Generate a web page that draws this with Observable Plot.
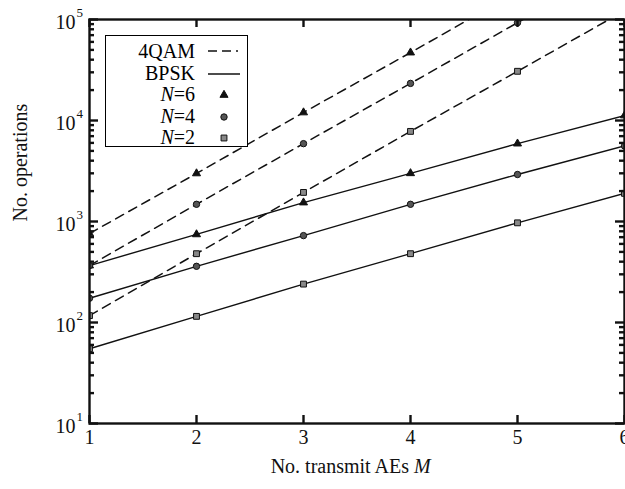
<!DOCTYPE html>
<html><head><meta charset="utf-8">
<script src="https://cdn.jsdelivr.net/npm/d3@7"></script>
<script src="https://cdn.jsdelivr.net/npm/@observablehq/plot@0.6"></script>
<style>
body{margin:0;background:#fff;font-family:"Liberation Serif","Times New Roman",serif;}
#wrap{position:relative;width:625px;height:489px;}
#legend{position:absolute;left:105px;top:35px;width:141px;height:110px;border:1.5px solid #000;background:#fff;font-size:20px;line-height:20px;}
.row{position:absolute;left:0;width:141px;height:20px;}
.row .lab{position:absolute;right:52px;top:0;white-space:nowrap;}
.row svg{position:absolute;left:98px;top:0;}
</style>
</head><body>
<div id="wrap"><div id="chart"></div><div id="legend"></div></div>
<script>
// ---- data ----
const M = [1, 2, 3, 4, 5, 6];
const bpskN2 = [55, 115, 240, 480, 970, 1900];
const bpskN4 = [174, 360, 725, 1480, 2920, 5600];
const bpskN6 = [366, 745, 1540, 3000, 5900, 11200];
const qamN2 = [117, 480, 1940, 7800, 30700, 122000];
const qamN4 = [366, 1480, 5900, 23300, 93000, 370000];
const qamN6 = [760, 2990, 12000, 47000, 188000, 750000];
const yTicks = [10, 100, 1000, 10000, 100000];
const yTickExp = ["1", "2", "3", "4", "5"];
const yMinor = [];
for (const d of [10, 100, 1000, 10000]) for (const k of [2,3,4,5,6,7,8,9]) yMinor.push(d * k);
const xTicks = [1, 2, 3, 4, 5, 6];

const mk = (mod, N, vals) => M.map((m, i) => ({M: m, ops: vals[i], mod, N}));
const bpsk = [...mk("BPSK", 2, bpskN2), ...mk("BPSK", 4, bpskN4), ...mk("BPSK", 6, bpskN6)];
const qam = [...mk("4QAM", 2, qamN2), ...mk("4QAM", 4, qamN4), ...mk("4QAM", 6, qamN6)];
const all = [...bpsk, ...qam];

const font = "Liberation Serif";
const markerStyle = {
  6: {symbol: "triangle", fill: "#111", r: 3},
  4: {symbol: "circle", fill: "#555", r: 3.2},
  2: {symbol: "square", fill: "#888", r: 3.3}
};
// frame inner size (for tick insets)
const W = 625, H = 489, mL = 89, mR = 1, mT = 19, mB = 66;
const fw = W - mL - mR, fh = H - mT - mB;
const tickStyle = {stroke: "#111", strokeWidth: 2.4};

const chart = Plot.plot({
  width: W, height: H,
  marginLeft: mL, marginRight: mR, marginTop: mT, marginBottom: mB,
  style: {fontFamily: font, background: "#fff"},
  x: {domain: [1, 6], axis: null},
  y: {type: "log", domain: [10, 100000], axis: null},
  marks: [
    Plot.line(bpsk, {x: "M", y: "ops", z: "N", stroke: "#111", strokeWidth: 1.4, clip: true}),
    Plot.line(qam, {x: "M", y: "ops", z: "N", stroke: "#111", strokeWidth: 1.5, strokeDasharray: "9,6", clip: true}),
    ...[6, 4, 2].map(n => Plot.dot(all.filter(d => d.N === n), {
      x: "M", y: "ops", symbol: () => markerStyle[n].symbol, r: markerStyle[n].r,
      fill: markerStyle[n].fill, stroke: "#111", strokeWidth: 1, clip: true
    })),
    // inward ticks
    Plot.tickX(xTicks, {x: d => d, insetTop: fh - 8, ...tickStyle}),
    Plot.tickX(xTicks, {x: d => d, insetBottom: fh - 8, ...tickStyle}),
    Plot.tickY(yTicks, {y: d => d, insetRight: fw - 9, ...tickStyle}),
    Plot.tickY(yTicks, {y: d => d, insetLeft: fw - 9, ...tickStyle}),
    Plot.tickY(yMinor, {y: d => d, insetRight: fw - 5, ...tickStyle}),
    Plot.tickY(yMinor, {y: d => d, insetLeft: fw - 5, ...tickStyle}),
    // tick labels
    Plot.text(xTicks, {x: d => d, frameAnchor: "bottom", dy: 20, text: d => String(d), fontSize: 20, fill: "#111"}),
    Plot.text(yTicks, {y: d => d, frameAnchor: "left", dx: -14, dy: 3, text: () => "10", textAnchor: "end", fontSize: 20, fill: "#111"}),
    Plot.text(yTicks, {y: d => d, frameAnchor: "left", dx: -13, dy: -7, text: (d, i) => yTickExp[i], textAnchor: "start", fontSize: 13, fill: "#111"}),
    // axis labels
    Plot.text(["No. transmit AEs"], {frameAnchor: "bottom", dx: 52, dy: 49, text: d => d, textAnchor: "end", fontSize: 20, fill: "#111"}),
    Plot.text(["M"], {frameAnchor: "bottom", dx: 57, dy: 49, text: d => d, textAnchor: "start", fontSize: 20, fontStyle: "italic", fill: "#111"}),
    Plot.text(["No. operations"], {frameAnchor: "left", dx: -69, rotate: -90, text: d => d, fontSize: 20, fill: "#111"}),
    Plot.frame({stroke: "#111", strokeWidth: 2.4})
  ]
});
document.getElementById("chart").appendChild(chart);

// ---- legend ----
const legendLabels = ["4QAM", "BPSK", "<i>N</i>=6", "<i>N</i>=4", "<i>N</i>=2"];
const legendKinds = ["dash", "solid", 6, 4, 2];
const leg = document.getElementById("legend");
legendLabels.forEach((lab, i) => {
  const row = document.createElement("div");
  row.className = "row";
  row.style.top = (5 + i * 21.5) + "px";
  const kind = legendKinds[i];
  let sample;
  if (kind === "dash") sample = '<line x1="4" x2="34" y1="10" y2="10" stroke="#111" stroke-width="1.5" stroke-dasharray="9,5"/>';
  else if (kind === "solid") sample = '<line x1="4" x2="36" y1="11" y2="11" stroke="#111" stroke-width="1.5"/>';
  else {
    const s = markerStyle[kind];
    const p = d3.symbol(s.symbol === "triangle" ? d3.symbolTriangle : s.symbol === "circle" ? d3.symbolCircle : d3.symbolSquare, Math.PI * s.r * s.r)();
    sample = `<path transform="translate(20,11)" d="${p}" fill="${s.fill}" stroke="#111" stroke-width="1"/>`;
  }
  row.innerHTML = `<span class="lab">${lab}</span><svg width="40" height="20">${sample}</svg>`;
  leg.appendChild(row);
});
</script>
</body></html>
